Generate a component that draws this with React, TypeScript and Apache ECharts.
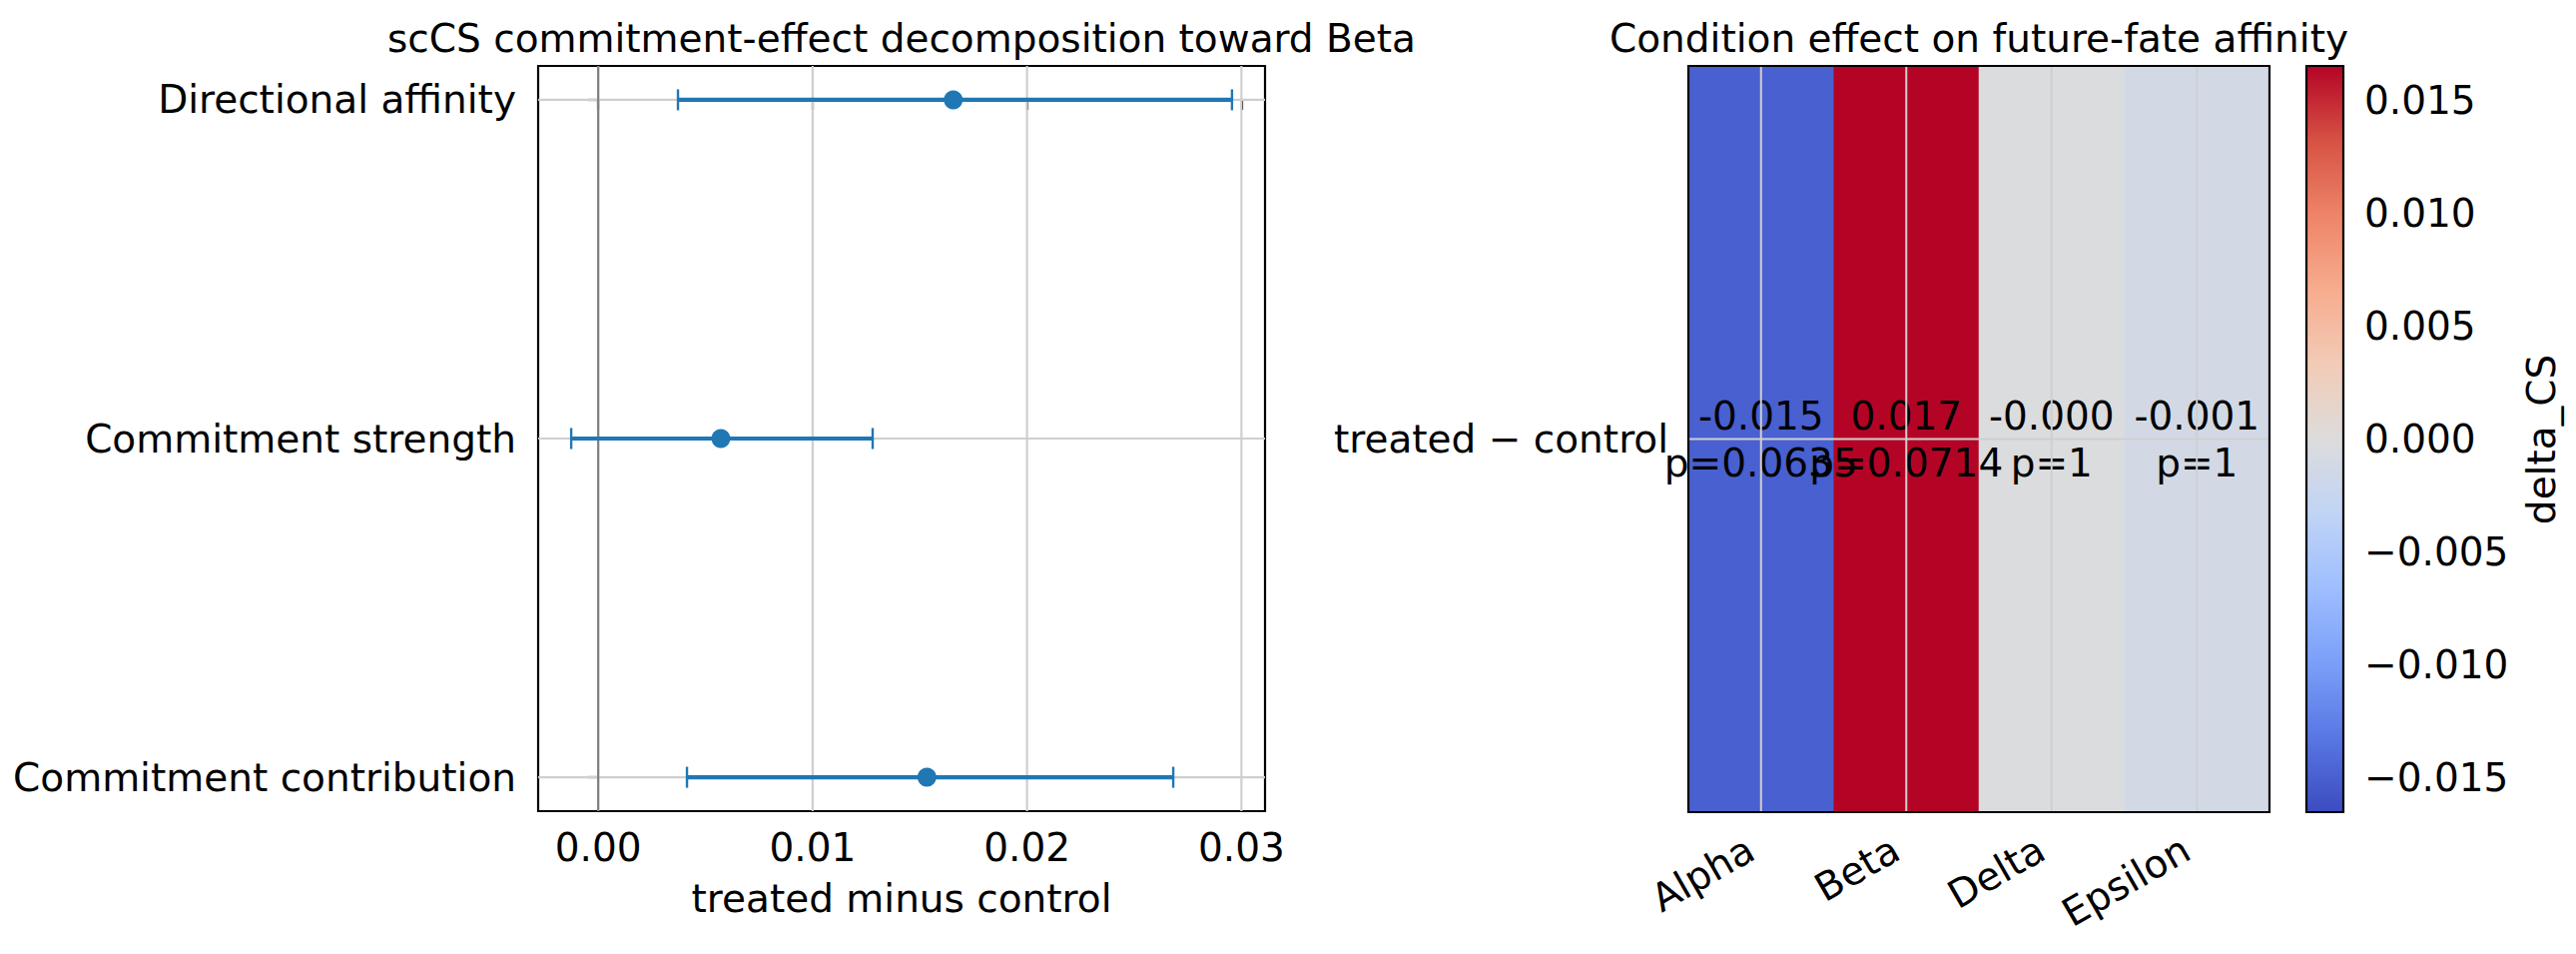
import React, { useEffect, useRef } from 'react';
import * as echarts from 'echarts';

// Left panel: commitment-effect decomposition (point estimate and interval)
const effectTerms = ['Directional affinity', 'Commitment strength', 'Commitment contribution'];
const effectMean = [0.01656, 0.00572, 0.01533];
const effectLow = [0.00372, -0.00126, 0.00414];
const effectHigh = [0.02956, 0.0128, 0.02682];
const effectTicks = [0, 0.01, 0.02, 0.03];

// Right panel: condition effect per future fate
const fates = ['Alpha', 'Beta', 'Delta', 'Epsilon'];
const contrasts = ['treated − control'];
const deltaCS = [-0.015, 0.01655, -0.0002, -0.0012];
const pValues = [0.0635, 0.0714, 1, 1];
const colorbarTicks = [-0.015, -0.01, -0.005, 0, 0.005, 0.01, 0.015];

const coolwarm = [
  '#3b4cc0', '#5977e3', '#7b9ff9', '#9ebeff', '#c0d4f5', '#dddcdc',
  '#f2cbb7', '#f7ac8e', '#ee8468', '#d65244', '#b40426',
];

const FONT = 'DejaVu Sans';
const FS = 39;
const BLUE = '#1f77b4';
const GRID_COLOR = '#cfcfcf';

export default function App() {
  const ref = useRef<HTMLDivElement>(null);

  useEffect(() => {
    if (!ref.current) return;
    const chart = echarts.init(ref.current, undefined, { renderer: 'svg' });

    const lo = Math.min(...effectLow);
    const hi = Math.max(...effectHigh);
    const xPad = 0.05 * (hi - lo);
    const yPad = 0.05 * (effectTerms.length - 1);
    const vmax = Math.max(...deltaCS.map(Math.abs));

    const tickStyle = { lineStyle: { color: '#000', width: 2.2 }, length: 10, inside: false };
    const labelStyle = { fontSize: FS, fontFamily: FONT, color: '#000' };

    const frame = (xi: number, yi: number, z: number) => ({
      type: 'custom',
      xAxisIndex: xi,
      yAxisIndex: yi,
      silent: true,
      z,
      data: [[0, 0]],
      renderItem: (params: any) => {
        const cs = params.coordSys;
        return {
          type: 'rect',
          shape: { x: cs.x, y: cs.y, width: cs.width, height: cs.height },
          style: { fill: 'none', stroke: '#000', lineWidth: 2.2 },
        };
      },
    });

    const option: any = {
      animation: false,
      backgroundColor: '#fff',
      textStyle: { fontFamily: FONT },
      grid: [
        { left: 539, top: 66, width: 728, height: 746, show: true, borderColor: '#000', borderWidth: 2.2, outerBoundsMode: 'none' },
        { left: 1691, top: 66, width: 582, height: 747, show: false, outerBoundsMode: 'none' },
        { left: 2310, top: 66, width: 37, height: 747, show: false, outerBoundsMode: 'none' },
      ],
      xAxis: [
        {
          gridIndex: 0,
          type: 'value',
          min: lo - xPad,
          max: hi + xPad,
          axisLine: { show: false },
          splitLine: { show: false },
          axisTick: { ...tickStyle, customValues: effectTicks },
          axisLabel: { ...labelStyle, margin: 17, customValues: effectTicks, formatter: (v: number) => v.toFixed(2) },
        },
        {
          gridIndex: 1,
          type: 'category',
          data: fates,
          axisLine: { show: false },
          splitLine: { show: false },
          axisTick: { ...tickStyle, alignWithLabel: true },
          axisLabel: { ...labelStyle, rotate: 30, margin: 28, padding: [0, 12, 0, 0], interval: 0 },
        },
        {
          gridIndex: 2,
          type: 'value',
          min: 0,
          max: 1,
          show: false,
        },
      ],
      yAxis: [
        {
          gridIndex: 0,
          type: 'value',
          inverse: true,
          min: -yPad,
          max: effectTerms.length - 1 + yPad,
          axisLine: { show: false },
          splitLine: { show: false },
          axisTick: { ...tickStyle, customValues: effectTerms.map((_, i) => i) },
          axisLabel: {
            ...labelStyle,
            margin: 22,
            customValues: effectTerms.map((_, i) => i),
            formatter: (v: number) => effectTerms[Math.round(v)],
          },
        },
        {
          gridIndex: 1,
          type: 'category',
          data: contrasts,
          axisLine: { show: false },
          splitLine: { show: false },
          axisTick: { ...tickStyle, alignWithLabel: true },
          axisLabel: { ...labelStyle, margin: 20 },
        },
        {
          gridIndex: 2,
          type: 'value',
          position: 'right',
          min: -vmax,
          max: vmax,
          axisLine: { show: false },
          splitLine: { show: false },
          axisTick: { ...tickStyle, customValues: colorbarTicks },
          axisLabel: {
            ...labelStyle,
            margin: 21,
            customValues: colorbarTicks,
            formatter: (v: number) => (v < -1e-9 ? '−' : '') + Math.abs(v).toFixed(3),
          },
        },
      ],
      visualMap: {
        type: 'continuous',
        show: false,
        seriesIndex: 6,
        dimension: 2,
        min: -vmax,
        max: vmax,
        inRange: { color: coolwarm },
      },
      graphic: [
        {
          type: 'text', x: 903, y: 38, silent: true,
          style: { text: 'scCS commitment-effect decomposition toward Beta', fontSize: FS, fontFamily: FONT, fill: '#000', align: 'center', verticalAlign: 'middle' },
        },
        {
          type: 'text', x: 1982, y: 38, silent: true,
          style: { text: 'Condition effect on future-fate affinity', fontSize: FS, fontFamily: FONT, fill: '#000', align: 'center', verticalAlign: 'middle' },
        },
        {
          type: 'text', x: 903, y: 899, silent: true,
          style: { text: 'treated minus control', fontSize: FS, fontFamily: FONT, fill: '#000', align: 'center', verticalAlign: 'middle' },
        },
        {
          type: 'text', x: 2545, y: 440, rotation: Math.PI / 2, silent: true,
          style: { text: 'delta_CS', fontSize: FS, fontFamily: FONT, fill: '#000', align: 'center', verticalAlign: 'middle' },
        },
      ],
      series: [
        // 0: vertical grid lines
        {
          type: 'custom', xAxisIndex: 0, yAxisIndex: 0, silent: true, z: 1,
          data: effectTicks.map((v) => [v, 0]),
          encode: { x: 0, y: 1 },
          renderItem: (params: any, api: any) => {
            const cs = params.coordSys;
            const p = api.coord([api.value(0), 0]);
            return { type: 'line', shape: { x1: p[0], y1: cs.y, x2: p[0], y2: cs.y + cs.height }, style: { stroke: GRID_COLOR, lineWidth: 2.2 } };
          },
        },
        // 1: horizontal grid lines
        {
          type: 'custom', xAxisIndex: 0, yAxisIndex: 0, silent: true, z: 1,
          data: effectTerms.map((_, i) => [0, i]),
          encode: { x: 0, y: 1 },
          renderItem: (params: any, api: any) => {
            const cs = params.coordSys;
            const p = api.coord([0, api.value(1)]);
            return { type: 'line', shape: { x1: cs.x, y1: p[1], x2: cs.x + cs.width, y2: p[1] }, style: { stroke: GRID_COLOR, lineWidth: 2.2 } };
          },
        },
        // 2: zero reference line
        {
          type: 'custom', xAxisIndex: 0, yAxisIndex: 0, silent: true, z: 2,
          data: [[0, 0]],
          encode: { x: 0, y: 1 },
          renderItem: (params: any, api: any) => {
            const cs = params.coordSys;
            const p = api.coord([0, 0]);
            return { type: 'line', shape: { x1: p[0], y1: cs.y, x2: p[0], y2: cs.y + cs.height }, style: { stroke: '#808080', lineWidth: 2.2 } };
          },
        },
        // 3: error bars
        {
          type: 'custom', xAxisIndex: 0, yAxisIndex: 0, silent: true, z: 3,
          data: effectTerms.map((_, i) => [effectLow[i], effectHigh[i], i]),
          encode: { x: [0, 1], y: 2 },
          renderItem: (_params: any, api: any) => {
            const a = api.coord([api.value(0), api.value(2)]);
            const b = api.coord([api.value(1), api.value(2)]);
            const cap = 10.5;
            return {
              type: 'group',
              children: [
                { type: 'line', shape: { x1: a[0], y1: a[1], x2: b[0], y2: b[1] }, style: { stroke: BLUE, lineWidth: 4.2 } },
                { type: 'line', shape: { x1: a[0], y1: a[1] - cap, x2: a[0], y2: a[1] + cap }, style: { stroke: BLUE, lineWidth: 2.4 } },
                { type: 'line', shape: { x1: b[0], y1: b[1] - cap, x2: b[0], y2: b[1] + cap }, style: { stroke: BLUE, lineWidth: 2.4 } },
              ],
            };
          },
        },
        // 4: point estimates
        {
          type: 'scatter', xAxisIndex: 0, yAxisIndex: 0, silent: true, z: 4,
          symbol: 'circle', symbolSize: 19,
          itemStyle: { color: BLUE, opacity: 1 },
          data: effectTerms.map((_, i) => [effectMean[i], i]),
        },
        // 5: placeholder keeps series index order stable
        {
          type: 'custom', xAxisIndex: 1, yAxisIndex: 1, silent: true, z: 0,
          data: [],
          renderItem: () => ({ type: 'group', children: [] }),
        },
        // 6: heatmap
        {
          type: 'heatmap', xAxisIndex: 1, yAxisIndex: 1, silent: true, z: 2,
          data: fates.map((_, i) => [i, 0, deltaCS[i]]),
          itemStyle: { borderWidth: 0 },
          label: {
            show: true,
            fontSize: FS,
            fontFamily: FONT,
            color: '#000',
            lineHeight: 47,
            formatter: (p: any) => `${(p.value[2] as number).toFixed(3)}\np=${pValues[p.dataIndex]}`,
          },
        },
        // 7: heatmap grid lines at tick centres
        {
          type: 'custom', xAxisIndex: 1, yAxisIndex: 1, silent: true, z: 3,
          data: fates.map((_, i) => [i, 0]),
          encode: { x: 0, y: 1 },
          renderItem: (params: any, api: any) => {
            const cs = params.coordSys;
            const p = api.coord([api.value(0), 0]);
            const children: any[] = [
              { type: 'line', shape: { x1: p[0], y1: cs.y, x2: p[0], y2: cs.y + cs.height }, style: { stroke: GRID_COLOR, lineWidth: 2 } },
            ];
            if (params.dataIndex === 0) {
              children.push({ type: 'line', shape: { x1: cs.x, y1: p[1], x2: cs.x + cs.width, y2: p[1] }, style: { stroke: GRID_COLOR, lineWidth: 2 } });
            }
            return { type: 'group', children };
          },
        },
        // 8: heatmap frame
        frame(1, 1, 10),
        // 9: colour bar
        {
          type: 'custom', xAxisIndex: 2, yAxisIndex: 2, silent: true, z: 2,
          data: [[0, 0]],
          renderItem: (_params: any, api: any) => {
            const top = api.coord([0, vmax]);
            const bot = api.coord([1, -vmax]);
            const stops = coolwarm.map((c, i) => ({ offset: i / (coolwarm.length - 1), color: c }));
            return {
              type: 'rect',
              shape: { x: top[0], y: top[1], width: bot[0] - top[0], height: bot[1] - top[1] },
              style: { fill: new echarts.graphic.LinearGradient(0, 1, 0, 0, stops) },
            };
          },
        },
        // 10: colour bar frame
        frame(2, 2, 10),
      ],
    };

    chart.setOption(option);
    return () => chart.dispose();
  }, []);

  return (
    <div
      ref={ref}
      style={{ position: 'absolute', left: 0, top: 0, width: 2580, height: 955, background: '#fff' }}
    />
  );
}
